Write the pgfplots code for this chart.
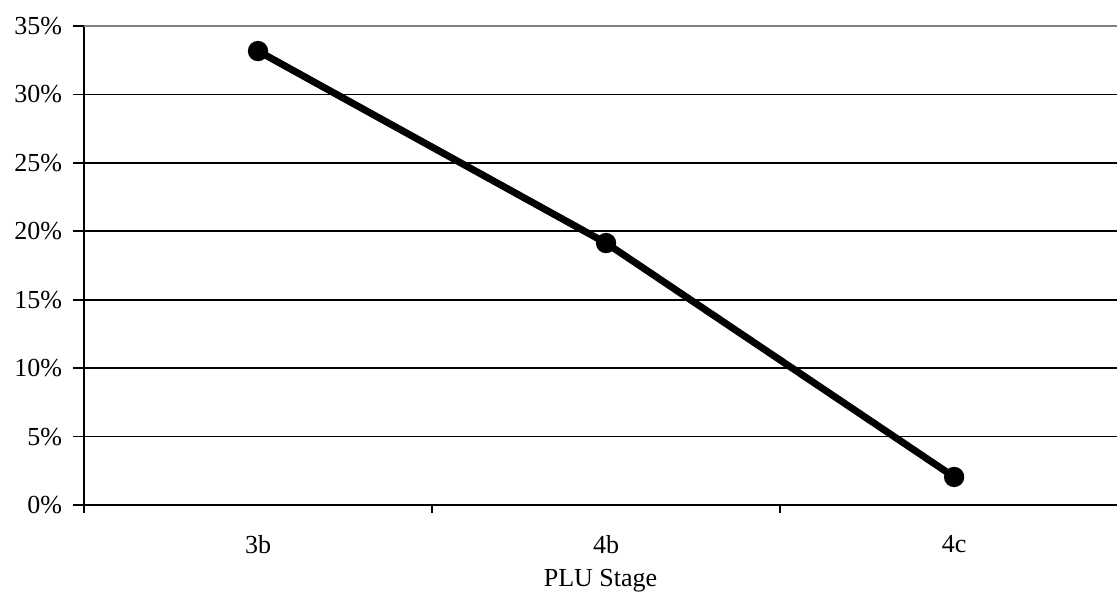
\documentclass[border=0pt]{standalone}
\usepackage{fontspec}
\setmainfont{Liberation Serif}
\usepackage{pgfplots}
\pgfplotsset{compat=1.18}

\begin{document}
\fontsize{13}{15}\selectfont
\begin{tikzpicture}
\begin{axis}[
    scale only axis,
    width=516.5pt, height=239.5pt,
    xmin=-0.5, xmax=2.468,
    ymin=0, ymax=35,
    axis x line=bottom, axis y line=left,
    axis line style={-, line width=0.9pt, black},
    xtick={0,1,2},
    xticklabels={3b,4b,4c},
    major x tick style={draw=none},
    minor xtick={-0.5,0.5,1.5},
    minor x tick style={line width=0.9pt, black},
    ytick={0,5,...,30,35},
    y tick style={line width=0.9pt, black},
    tick align=outside,
    major tick length=5.5pt,
    minor tick length=4pt,
    ymajorgrids,
    grid style={line width=0.9pt, black},
    yticklabel={\pgfmathprintnumber{\tick}\%},
    /pgf/number format/assume math mode=true,
    ticklabel style={font=\fontsize{13}{15}\selectfont},
    xticklabel style={yshift=-5pt},
    yticklabel style={xshift=-1pt},
    xlabel={PLU Stage},
    xlabel style={font=\fontsize{13}{15}\selectfont, yshift=1pt},
    clip=false,
]
\addplot[black, line width=3.5pt, mark=*, mark size=3.3pt]
    coordinates {(0,33.17)(1,19.14)(2,2.05)};
\draw[gray, line width=0.9pt] (rel axis cs:0,1) -- (rel axis cs:1,1);
\end{axis}
\pgfresetboundingbox
\useasboundingbox (-42pt,-45.5pt) rectangle (516.5pt,252.5pt);
\end{tikzpicture}
\end{document}
